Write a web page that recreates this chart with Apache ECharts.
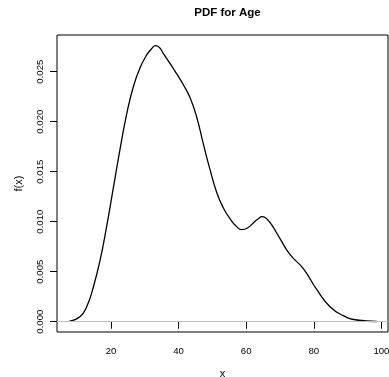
<!DOCTYPE html>
<html>
<head>
<meta charset="utf-8">
<script src="https://cdn.jsdelivr.net/npm/echarts@6/dist/echarts.min.js"></script>
<style>html,body{margin:0;padding:0;background:#fff}#c{width:389px;height:377px}</style>
</head>
<body>
<div id="c"></div>
<script>
var ages = [7.6, 10.8, 12.8, 14.8, 16.8, 18.7, 20.7, 22.7, 24.6, 26.6, 28.6, 30.6, 32.0, 33.2, 34.4, 35.5, 37.5, 39.4, 41.4, 43.4, 45.4, 47.3, 49.3, 51.3, 53.2, 55.2, 57.2, 58.7, 60.5, 62.5, 63.6, 64.6, 65.7, 67.5, 70.0, 73.0, 76.9, 80.9, 84.8, 88.7, 92.7, 98.6];
var density = [0.00004, 0.0005, 0.0015, 0.0035, 0.0062, 0.0095, 0.0134, 0.0173, 0.0207, 0.0235, 0.0254, 0.0267, 0.0273, 0.0276, 0.0274, 0.0268, 0.0258, 0.0248, 0.0237, 0.0224, 0.0204, 0.0178, 0.0152, 0.0129, 0.0114, 0.0103, 0.0095, 0.0092, 0.0094, 0.0100, 0.0103, 0.0105, 0.0104, 0.0097, 0.0083, 0.0067, 0.0053, 0.0032, 0.0015, 0.0006, 0.00017, 0.00002];
var xTicks = [20, 40, 60, 80, 100];
var yTicks = [0, 0.005, 0.010, 0.015, 0.020, 0.025];
var titleText = 'PDF for Age';
var xName = 'x';
var yName = 'f(x)';

var font = "'Liberation Sans', Arial, Helvetica, sans-serif";
var chart = echarts.init(document.getElementById('c'), null, {renderer: 'canvas'});
var pts = ages.map(function (a, i) { return [a, density[i]]; });
chart.setOption({
  animation: false,
  backgroundColor: '#fff',
  title: {
    text: titleText, left: 222.5, top: 2, textAlign: 'center',
    textStyle: {fontFamily: font, fontSize: 11.5, fontWeight: 'bold', color: '#000'}
  },
  grid: {left: 57, right: 1, top: 35, bottom: 45, show: true, borderColor: '#000', borderWidth: 1,
    backgroundColor: 'transparent', outerBoundsMode: 'none', containLabel: false},
  xAxis: {
    type: 'value', min: 4.02, max: 101.95,
    name: xName, nameLocation: 'middle', nameGap: 36,
    nameTextStyle: {fontFamily: font, fontSize: 11, color: '#000'},
    axisLine: {show: false},
    axisTick: {show: true, length: 7, customValues: xTicks, lineStyle: {color: '#000'}},
    axisLabel: {customValues: xTicks, margin: 14, fontFamily: font, fontSize: 9.6, color: '#000'},
    splitLine: {show: false}
  },
  yAxis: {
    type: 'value', min: -0.00103, max: 0.02867,
    name: yName, nameLocation: 'middle', nameGap: 33, nameRotate: 90,
    nameTextStyle: {fontFamily: font, fontSize: 11, color: '#000'},
    axisLine: {show: false},
    axisTick: {show: true, length: 7, customValues: yTicks, lineStyle: {color: '#000'}},
    axisLabel: {customValues: yTicks, rotate: 90, margin: 12, fontFamily: font, fontSize: 9.6, color: '#000',
      formatter: function (v) { return v.toFixed(3); }},
    splitLine: {show: false}
  },
  series: [{
    type: 'line', data: pts, smooth: 0.5, showSymbol: false,
    lineStyle: {color: '#000', width: 1.3},
    markLine: {
      silent: true, symbol: ['none', 'none'], label: {show: false},
      lineStyle: {color: '#bebebe', width: 1.2, type: 'solid'},
      data: [{yAxis: 0}]
    }
  }]
});
</script>
</body>
</html>
